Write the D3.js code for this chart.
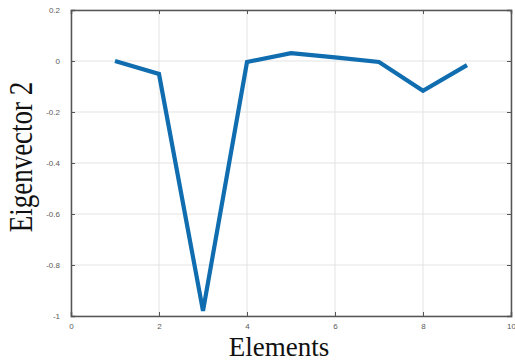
<!DOCTYPE html>
<html>
<head>
<meta charset="utf-8">
<script src="https://cdnjs.cloudflare.com/ajax/libs/d3/7.8.5/d3.min.js"></script>
<style>
    body { margin: 0; background: #fff; }
    svg { display: block; }
</style>
</head>
<body>
<div id="chart"></div>
<script>
// values
const elements = [1, 2, 3, 4, 5, 6, 7, 8, 9];
const eigenvector2 = [0.0, -0.051, -0.98, -0.004, 0.031, 0.014, -0.004, -0.117, -0.016];
const xTicks = [0, 2, 4, 6, 8, 10];
const yTicks = [0.2, 0, -0.2, -0.4, -0.6, -0.8, -1];

const width = 515, height = 363;
const margin = { top: 10, right: 4, bottom: 47, left: 71 };

const svg = d3.select("#chart")
    .append("svg")
    .attr("width", width)
    .attr("height", height);

const x = d3.scaleLinear().domain([0, 10]).range([margin.left, width - margin.right]);
const y = d3.scaleLinear().domain([-1, 0.2]).range([height - margin.bottom, margin.top]);

// grid lines
svg.append("g")
    .selectAll("line")
    .data(xTicks)
    .join("line")
    .attr("x1", d => x(d)).attr("x2", d => x(d))
    .attr("y1", y(-1)).attr("y2", y(0.2))
    .attr("stroke", "#e3e3e3")
    .attr("stroke-width", 1);

svg.append("g")
    .selectAll("line")
    .data(yTicks)
    .join("line")
    .attr("y1", d => y(d)).attr("y2", d => y(d))
    .attr("x1", x(0)).attr("x2", x(10))
    .attr("stroke", "#e3e3e3")
    .attr("stroke-width", 1);

// axes with inward ticks
const axisColor = "#555";

const axBottom = svg.append("g")
    .attr("transform", `translate(0,${y(-1)})`)
    .call(d3.axisBottom(x).tickValues(xTicks).tickSize(-4).tickPadding(7).tickFormat(d => String(d)));
const axTop = svg.append("g")
    .attr("transform", `translate(0,${y(0.2)})`)
    .call(d3.axisTop(x).tickValues(xTicks).tickSize(-4).tickFormat(""));
const axLeft = svg.append("g")
    .attr("transform", `translate(${x(0)},0)`)
    .call(d3.axisLeft(y).tickValues(yTicks).tickSize(-4).tickPadding(11).tickFormat(d => String(d)));
const axRight = svg.append("g")
    .attr("transform", `translate(${x(10)},0)`)
    .call(d3.axisRight(y).tickValues(yTicks).tickSize(-4).tickFormat(""));

[axBottom, axTop, axLeft, axRight].forEach(g => {
    g.select(".domain").attr("stroke", axisColor).attr("stroke-width", 1.5);
    g.selectAll(".tick line").attr("stroke", axisColor).attr("stroke-width", 1);
    g.selectAll(".tick text")
        .attr("fill", "#5a5a5a")
        .style("font-family", "'Liberation Sans', Arial, sans-serif")
        .style("font-size", "8px");
});

// the data line
const line = d3.line()
    .x((d, i) => x(elements[i]))
    .y(d => y(d));

svg.append("path")
    .datum(eigenvector2)
    .attr("fill", "none")
    .attr("stroke", "#0f6db0")
    .attr("stroke-width", 4.2)
    .attr("stroke-linejoin", "miter")
    .attr("d", line);

// axis titles (the source figure is slightly stretched, hence the scale)
svg.append("text")
    .attr("x", 279)
    .attr("y", 356)
    .attr("text-anchor", "middle")
    .style("font-family", "'Liberation Serif', 'DejaVu Serif', serif")
    .style("font-size", "27px")
    .attr("fill", "#111")
    .text("Elements");

svg.append("text")
    .attr("transform", "translate(32,157) rotate(-90) scale(1,1.25)")
    .attr("text-anchor", "middle")
    .style("font-family", "'Liberation Serif', 'DejaVu Serif', serif")
    .style("font-size", "27px")
    .attr("fill", "#111")
    .text("Eigenvector 2");
</script>
</body>
</html>
